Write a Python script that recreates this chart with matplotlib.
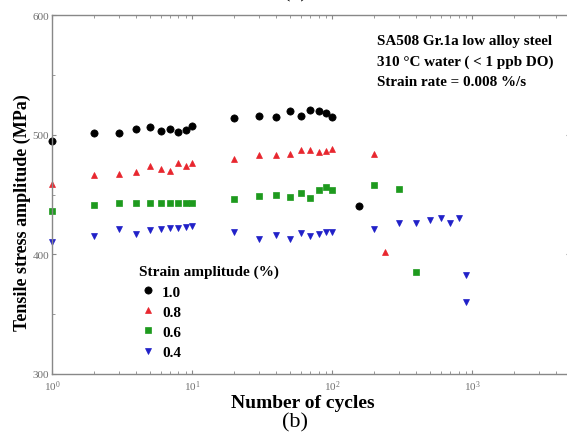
"""Cyclic stress response of SA508 Gr.1a in 310 C water, recreated."""

import matplotlib
matplotlib.use("Agg")
import matplotlib.pyplot as plt
from matplotlib.ticker import LogLocator, MultipleLocator, NullFormatter

plt.rcParams["font.family"] = ["Liberation Serif", "DejaVu Serif"]
plt.rcParams["mathtext.fontset"] = "stix"

# cycles / stress amplitude (MPa) for each strain amplitude
n_10 = [1, 2, 3, 4, 5, 6, 7, 8, 9, 10, 20, 30, 40, 50, 60, 70, 80, 90, 100, 156]
s_10 = [495, 501, 501, 505, 506, 503, 505, 502, 504, 507.5,
        514, 516, 515, 520, 516, 521, 519.5, 518.5, 515, 440]

n_08 = [1, 2, 3, 4, 5, 6, 7, 8, 9, 10, 20, 30, 40, 50, 60, 70, 80, 90, 100, 200, 240]
s_08 = [459, 466, 467, 469, 474, 471, 470, 476, 474, 476,
        480, 483, 483, 484, 487.5, 487, 485.5, 486.7, 488, 484, 402]

n_06 = [1, 2, 3, 4, 5, 6, 7, 8, 9, 10, 20, 30, 40, 50, 60, 70, 80, 90, 100,
        200, 300, 400]
s_06 = [436, 441, 443, 443, 443, 443, 443, 443, 443, 442.5,
        446, 449, 450, 448, 451, 447, 453.5, 456, 454, 458, 455, 385]

n_04 = [1, 2, 3, 4, 5, 6, 7, 8, 9, 10, 20, 30, 40, 50, 60, 70, 80, 90, 100,
        200, 300, 400, 500, 600, 700, 800, 900, 900]
s_04 = [410, 415, 421, 417, 420, 421.5, 422, 422, 422.5, 424,
        419, 413, 416, 413, 418, 415, 417, 419, 419,
        421, 426, 426, 428.6, 430.6, 426.4, 430, 382.5, 360]

series = [
    ("1.0", n_10, s_10, "o", "black", 5.2),
    ("0.8", n_08, s_08, "^", "#e8262e", 5.0),
    ("0.6", n_06, s_06, "s", "#1e9a1e", 4.6),
    ("0.4", n_04, s_04, "v", "#2020c8", 5.0),
]

W, H = 567, 439
fig = plt.figure(figsize=(W / 100, H / 100), dpi=100)
ax = fig.add_axes([52 / W, 64 / H, 518 / W, 359 / H])

for label, n, s, mk, col, ms in series:
    ax.plot(n, s, linestyle="none", marker=mk, color=col, markersize=ms,
            markeredgewidth=0.5, label=label, clip_on=False)

ax.set_xscale("log")
ax.set_xlim(1, 5000)
ax.set_ylim(300, 600)
ax.xaxis.set_major_locator(LogLocator(base=10, numticks=10))
ax.xaxis.set_minor_locator(LogLocator(base=10, subs=range(2, 10), numticks=20))
ax.xaxis.set_minor_formatter(NullFormatter())
ax.yaxis.set_major_locator(MultipleLocator(100))
ax.yaxis.set_minor_locator(MultipleLocator(50))

ax.tick_params(which="both", direction="in", top=True, right=True,
               colors="#888888", labelcolor="#707070", labelsize=8, pad=2)
ax.tick_params(axis="x", which="major", pad=3)
ax.tick_params(which="major", length=3)
ax.tick_params(which="minor", length=2)
for sp in ax.spines.values():
    sp.set_color("#888888")
    sp.set_linewidth(1.0)

fig.text(22 / W, 1 - 213 / H, "Tensile stress amplitude (MPa)", rotation=90,
         ha="center", va="center", fontsize=13, fontweight="bold")
fig.text(303 / W, 1 - 404 / H, "Number of cycles", ha="center", va="center",
         fontsize=14, fontweight="bold")
fig.text(295 / W, 1 - 423 / H, "(b)", ha="center", va="center", fontsize=16)
fig.text(295 / W, 1 + 7 / H, "(a)", ha="center", va="center", fontsize=16)

notes = ["SA508 Gr.1a low alloy steel", "310 \u00b0C water ( < 1 ppb DO)",
         "Strain rate = 0.008 %/s"]
for i, t in enumerate(notes):
    fig.text(377 / W, 1 - (42 + 20 * i) / H, t, ha="left", va="center",
             fontsize=10.9, fontweight="bold")

leg = fig.legend(loc="upper left", bbox_to_anchor=(139 / W, 1 - 266 / H),
                 frameon=False, title="Strain amplitude (%)", alignment="left",
                 prop={"weight": "bold", "size": 11}, handletextpad=0.3,
                 labelspacing=0.42, borderpad=0, borderaxespad=0,
                 handlelength=1.2)
leg.get_title().set_fontweight("bold")
leg.get_title().set_fontsize(11)

fig.savefig("out.png", dpi=100)
